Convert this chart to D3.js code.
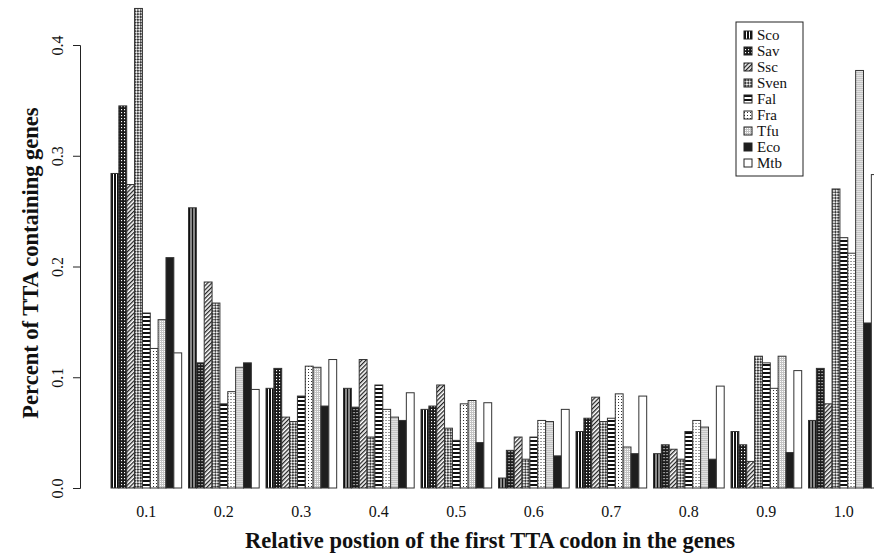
<!DOCTYPE html>
<meta charset="utf-8">
<style>
  body { margin: 0; background: #fff; }
  text { font-family: "Liberation Serif", "Times New Roman", serif; fill: #111; }
  .axis-title { font-weight: bold; font-size: 22.5px; }
  .tick-label { font-size: 16px; }
  .legend text { font-size: 15px; }
  .bars rect { stroke: #333; stroke-width: 1; }
</style>

<svg class="chart" width="874" height="557"></svg>

<script src="https://d3js.org/d3.v7.min.js"></script>
<script>

  // relative position bins
  var groups = ['0.1','0.2','0.3','0.4','0.5','0.6','0.7','0.8','0.9','1.0'];
  var species = ['Sco','Sav','Ssc','Sven','Fal','Fra','Tfu','Eco','Mtb'];

  var sco  = [0.284, 0.253, 0.090, 0.090, 0.071, 0.009, 0.051, 0.031, 0.051, 0.061];
  var sav  = [0.345, 0.113, 0.108, 0.073, 0.074, 0.034, 0.063, 0.039, 0.039, 0.108];
  var ssc  = [0.274, 0.186, 0.064, 0.116, 0.093, 0.046, 0.082, 0.035, 0.024, 0.076];
  var sven = [0.433, 0.167, 0.060, 0.046, 0.054, 0.026, 0.060, 0.026, 0.119, 0.270];
  var fal  = [0.158, 0.076, 0.083, 0.093, 0.043, 0.046, 0.063, 0.051, 0.113, 0.226];
  var fra  = [0.126, 0.087, 0.110, 0.071, 0.076, 0.061, 0.085, 0.061, 0.090, 0.212];
  var tfu  = [0.152, 0.109, 0.109, 0.064, 0.079, 0.060, 0.037, 0.055, 0.119, 0.377];
  var eco  = [0.208, 0.113, 0.074, 0.061, 0.041, 0.029, 0.031, 0.026, 0.032, 0.149];
  var mtb  = [0.122, 0.089, 0.116, 0.086, 0.077, 0.071, 0.083, 0.092, 0.106, 0.283];

  var yTicks = [0, 0.1, 0.2, 0.3, 0.4];

  var values = [sco, sav, ssc, sven, fal, fra, tfu, eco, mtb];

  var svg = d3.select(".chart");
  var defs = svg.append("defs");

  // fill patterns, one per species (R-ish density shading)
  function pat(id, w, h, bg, rot) {
    var p = defs.append("pattern")
        .attr("id", id)
        .attr("patternUnits", "userSpaceOnUse")
        .attr("width", w)
        .attr("height", h);
    if (rot) p.attr("patternTransform", "rotate(" + rot + ")");
    p.append("rect").attr("width", w).attr("height", h).attr("fill", bg);
    return p;
  }

  pat("p-sco", 3, 3, "#fff").append("rect").attr("width", 2).attr("height", 3).attr("fill", "#111");

  var pSav = pat("p-sav", 3, 3, "#1a1a1a");
  pSav.append("rect").attr("x", 1).attr("y", 1).attr("width", 1.1).attr("height", 1.2).attr("fill", "#fff");

  pat("p-ssc", 3, 3, "#fff", 45).append("rect").attr("width", 1.3).attr("height", 3).attr("fill", "#222");

  var pSven = pat("p-sven", 4, 4, "#3a3a3a", 45);
  pSven.append("rect").attr("width", 2).attr("height", 2).attr("fill", "#eee");
  pSven.append("rect").attr("x", 2).attr("y", 2).attr("width", 2).attr("height", 2).attr("fill", "#eee");

  pat("p-fal", 4, 4, "#fff").append("rect").attr("width", 4).attr("height", 2).attr("fill", "#111");

  var pFra = pat("p-fra", 3, 3, "#fff");
  pFra.append("rect").attr("width", 1).attr("height", 1).attr("fill", "#333");

  var pTfu = pat("p-tfu", 2, 2, "#c4c4c4");
  pTfu.append("rect").attr("x", 1).attr("y", 1).attr("width", 1).attr("height", 1).attr("fill", "#fff");

  var fills = ["url(#p-sco)", "url(#p-sav)", "url(#p-ssc)", "url(#p-sven)", "url(#p-fal)",
               "url(#p-fra)", "url(#p-tfu)", "#1e1e1e", "#fff"];

  var x0 = d3.scaleBand()
      .domain(groups)
      .range([111, 879.2])
      .paddingInner(0.088)
      .paddingOuter(0)
      .align(0);

  var x1 = d3.scaleBand()
      .domain(species)
      .range([0, x0.bandwidth()]);

  var y = d3.scaleLinear()
      .domain([0, 0.4])
      .range([488, 45]);

  var color = d3.scaleOrdinal().domain(species).range(fills);

  // bars
  var rows = groups.map(function (g, i) {
    return species.map(function (s, j) { return { group: g, key: s, value: values[j][i] }; });
  });

  svg.append("g")
      .attr("class", "bars")
      .selectAll("g")
      .data(rows)
      .enter().append("g")
        .attr("transform", function (d, i) { return "translate(" + x0(groups[i]) + ",0)"; })
      .selectAll("rect")
      .data(function (d) { return d; })
      .enter().append("rect")
        .attr("x", function (d) { return x1(d.key); })
        .attr("width", x1.bandwidth())
        .attr("y", function (d) { return y(d.value); })
        .attr("height", function (d) { return y(0) - y(d.value); })
        .attr("fill", function (d) { return color(d.key); });

  // y axis, R style (labels parallel to axis)
  var yAxis = svg.append("g")
      .attr("transform", "translate(80,0)")
      .call(d3.axisLeft(y).tickValues(yTicks).tickSizeOuter(0).tickSize(7).tickPadding(0)
            .tickFormat(d3.format(".1f")));
  yAxis.select(".domain").attr("stroke", "#222");
  yAxis.selectAll(".tick line").attr("stroke", "#222");
  yAxis.selectAll(".tick text")
      .attr("class", "tick-label")
      .attr("x", null).attr("dy", null)
      .attr("transform", "translate(-17,0) rotate(-90)")
      .attr("text-anchor", "middle")
      .attr("font-family", null)
      .attr("font-size", null);

  // x labels, no axis line
  svg.append("g")
      .selectAll("text")
      .data(groups)
      .enter().append("text")
        .attr("class", "tick-label")
        .attr("x", function (d) { return x0(d) + x0.bandwidth() / 2; })
        .attr("y", 517)
        .attr("text-anchor", "middle")
        .text(function (d) { return d; });

  svg.append("text")
      .attr("class", "axis-title")
      .attr("x", 490)
      .attr("y", 548)
      .attr("text-anchor", "middle")
      .text("Relative postion of the first TTA codon in the genes");

  svg.append("text")
      .attr("class", "axis-title")
      .attr("transform", "translate(38,263) rotate(-90)")
      .attr("text-anchor", "middle")
      .text("Percent of TTA containing genes");

  // legend
  var legend = svg.append("g").attr("class", "legend");
  legend.append("rect")
      .attr("x", 736).attr("y", 22)
      .attr("width", 67).attr("height", 154)
      .attr("fill", "#fff").attr("stroke", "#222");

  var item = legend.selectAll("g.item")
      .data(species)
      .enter().append("g")
        .attr("class", "item")
        .attr("transform", function (d, i) { return "translate(744," + (35 + i * 16) + ")"; });
  item.append("rect")
      .attr("x", 0).attr("y", -4)
      .attr("width", 8).attr("height", 8)
      .attr("fill", function (d) { return color(d); })
      .attr("stroke", "#222");
  item.append("text")
      .attr("x", 13)
      .attr("y", 5)
      .text(function (d) { return d; });

</script>
